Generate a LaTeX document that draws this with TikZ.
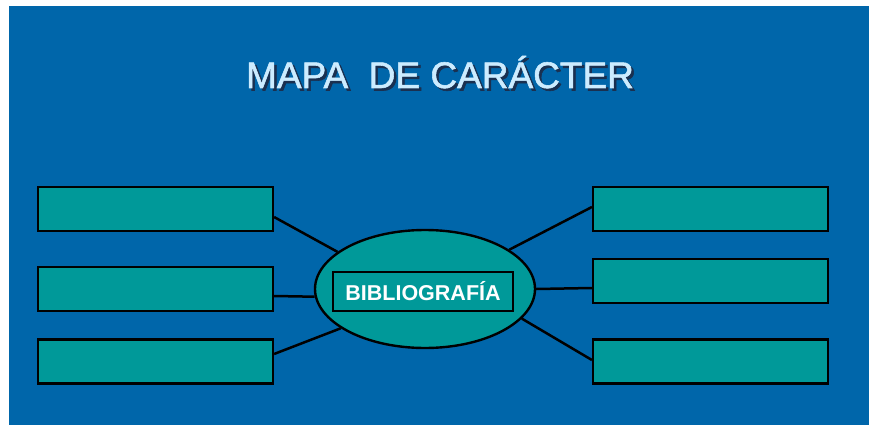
\documentclass[tikz,border=0pt]{standalone}
\usepackage{fontspec}
\setmainfont{Liberation Sans}
\newfontfamily\titlefont[FakeBold=1.5]{Liberation Sans}
\usetikzlibrary{shapes.geometric}
\definecolor{bgblue}{HTML}{0066AA}
\definecolor{tealfill}{HTML}{009999}
\definecolor{titlelight}{HTML}{CCECFF}
\definecolor{shadowc}{HTML}{1A3050}
\tikzset{
  box/.style={draw=black, line width=2.2pt, fill=tealfill, minimum width=235pt, minimum height=44pt, inner sep=0pt},
  conn/.style={draw=black, line width=2.5pt},
  ttl/.style={font=\titlefont\fontsize{37}{44}\selectfont, anchor=base, inner sep=0pt}
}
\begin{document}
\begin{tikzpicture}[x=1pt,y=-1pt]
\useasboundingbox (0,0) rectangle (869,425);
\fill[white] (0,0) rectangle (869,425);
\fill[bgblue] (9,6) rectangle (869,425);
% title
\node[ttl, text=shadowc] (titleshadow) at (442.5,90.5) {MAPA\ \ DE CARÁCTER};
\node[ttl, text=titlelight] (title) at (440,88) {MAPA\ \ DE CARÁCTER};
% boxes
\node[box] (lb1) at (155.5,209) {};
\node[box] (lb2) at (155.5,289) {};
\node[box] (lb3) at (155.5,361.5) {};
\node[box] (rb1) at (710.5,209) {};
\node[box] (rb2) at (710.5,281) {};
\node[box] (rb3) at (710.5,361.5) {};
% center
\node[ellipse, draw=black, line width=2.4pt, fill=tealfill, minimum width=220pt, minimum height=118pt, inner sep=0pt] (ell) at (425,289) {};
\node[draw=black, line width=2.2pt, fill=tealfill, minimum width=180pt, minimum height=39pt, inner sep=0pt,
      font=\fontsize{21.5}{25}\selectfont\bfseries, text=white] (bib) at (423,291.5) {BIBLIOGRAFÍA};
% connectors
\draw[conn] ([yshift=-8pt]lb1.east) -- (ell.157);
\draw[conn] ([yshift=-7pt]lb2.east) -- (ell.184);
\draw[conn] ([yshift=7.5pt]lb3.east) -- (ell.205);
\draw[conn] ([yshift=2pt]rb1.west) -- (ell.25);
\draw[conn] ([yshift=-7pt]rb2.west) -- (ell.0);
\draw[conn] ([yshift=1.5pt]rb3.west) -- (ell.343);
\end{tikzpicture}
\end{document}
